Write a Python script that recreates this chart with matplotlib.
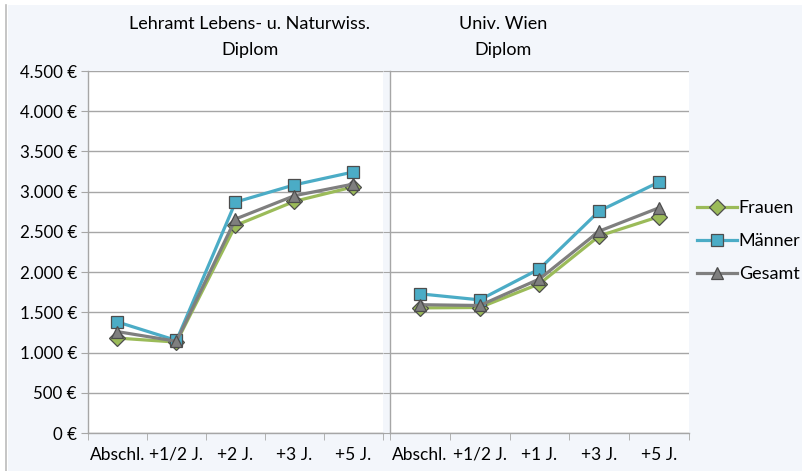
import numpy as np
import matplotlib
matplotlib.use("Agg")
import matplotlib.pyplot as plt
from matplotlib.ticker import FuncFormatter, FixedLocator
from matplotlib.patches import Rectangle
from matplotlib.lines import Line2D

plt.rcParams['font.family'] = ['Lato', 'DejaVu Sans']

# --- data ---
cats_left = ['Abschl.', '+1/2 J.', '+2 J.', '+3 J.', '+5 J.']
cats_right = ['Abschl.', '+1/2 J.', '+1 J.', '+3 J.', '+5 J.']

frauen_left = [1180, 1130, 2580, 2880, 3060]
maenner_left = [1380, 1150, 2870, 3085, 3245]
gesamt_left = [1260, 1140, 2660, 2950, 3095]

frauen_right = [1555, 1560, 1855, 2450, 2690]
maenner_right = [1730, 1655, 2040, 2760, 3120]
gesamt_right = [1595, 1585, 1915, 2510, 2800]

title_left = 'Lehramt Lebens- u. Naturwiss.\nDiplom'
title_right = 'Univ. Wien\nDiplom'

series_names = ['Frauen', 'Männer', 'Gesamt']
colors = ['#9BBB59', '#4BACC6', '#7F7F7F']
markers = ['D', 's', '^']
msizes = [8, 8, 8]

W, H = 803, 471
fig = plt.figure(figsize=(W / 100, H / 100), dpi=100, facecolor='white')

# chart area background and left border line
fig.patches.append(Rectangle((8 / W, 0), 1 - 8 / W, 1 - 5 / H, transform=fig.transFigure,
                             facecolor='#F3F6FB', edgecolor='none', zorder=-10))
fig.add_artist(Line2D([6 / W, 6 / W], [0, 1 - 5 / H], transform=fig.transFigure,
                      color='#BBBBBB', lw=1.2))

ax_bottom = (H - 433) / H
ax_height = (433 - 71) / H
ax1 = fig.add_axes([88 / W, ax_bottom, 295 / W, ax_height])
ax2 = fig.add_axes([390 / W, ax_bottom, 299 / W, ax_height])

euro = FuncFormatter(lambda v, p: f"{v:,.0f} €".replace(",", "."))

for ax, cats, data in [
    (ax1, cats_left, [frauen_left, maenner_left, gesamt_left]),
    (ax2, cats_right, [frauen_right, maenner_right, gesamt_right]),
]:
    x = np.arange(len(cats))
    for vals, name, c, m, ms in zip(data, series_names, colors, markers, msizes):
        ax.plot(x, vals, color=c, lw=2.3, marker=m, markersize=ms,
                markerfacecolor=c, markeredgecolor='#4D4D4D', markeredgewidth=0.9,
                label=name, zorder=3)
    ax.set_facecolor('white')
    ax.set_xlim(-0.5, len(cats) - 0.5)
    ax.set_ylim(0, 4500)
    ax.set_yticks(np.arange(0, 4501, 500))
    ax.grid(axis='y', color='#A6A6A6', lw=1.0)
    ax.set_axisbelow(True)
    ax.set_xticks(x)
    ax.set_xticklabels(cats, fontsize=12.5)
    ax.xaxis.set_minor_locator(FixedLocator(np.arange(-0.5, len(cats), 1.0)))
    ax.tick_params(axis='x', which='major', length=0, pad=10)
    ax.tick_params(axis='x', which='minor', length=5, color='#A6A6A6', direction='out')
    ax.tick_params(axis='y', length=5, color='#A6A6A6', direction='out', pad=3,
                   labelsize=12.2)
    for s in ['top', 'right']:
        ax.spines[s].set_visible(False)
    for s in ['left', 'bottom']:
        ax.spines[s].set_color('#A6A6A6')
        ax.spines[s].set_linewidth(1.0)

ax1.yaxis.set_major_formatter(euro)
ax2.tick_params(axis='y', labelleft=False)

fig.text(250 / W, 1 - 37 / H, title_left, ha='center', va='center',
         fontsize=13, linespacing=1.7)
fig.text(503 / W, 1 - 37 / H, title_right, ha='center', va='center',
         fontsize=13, linespacing=1.7)

handles, labels = ax1.get_legend_handles_labels()
fig.legend(handles, labels, loc='center left', bbox_to_anchor=(690 / W, 1 - 241 / H),
           frameon=False, fontsize=13, handlelength=2.2, handletextpad=0.1,
           labelspacing=0.95, borderaxespad=0)

fig.savefig('out.png', dpi=100, facecolor=fig.get_facecolor())
